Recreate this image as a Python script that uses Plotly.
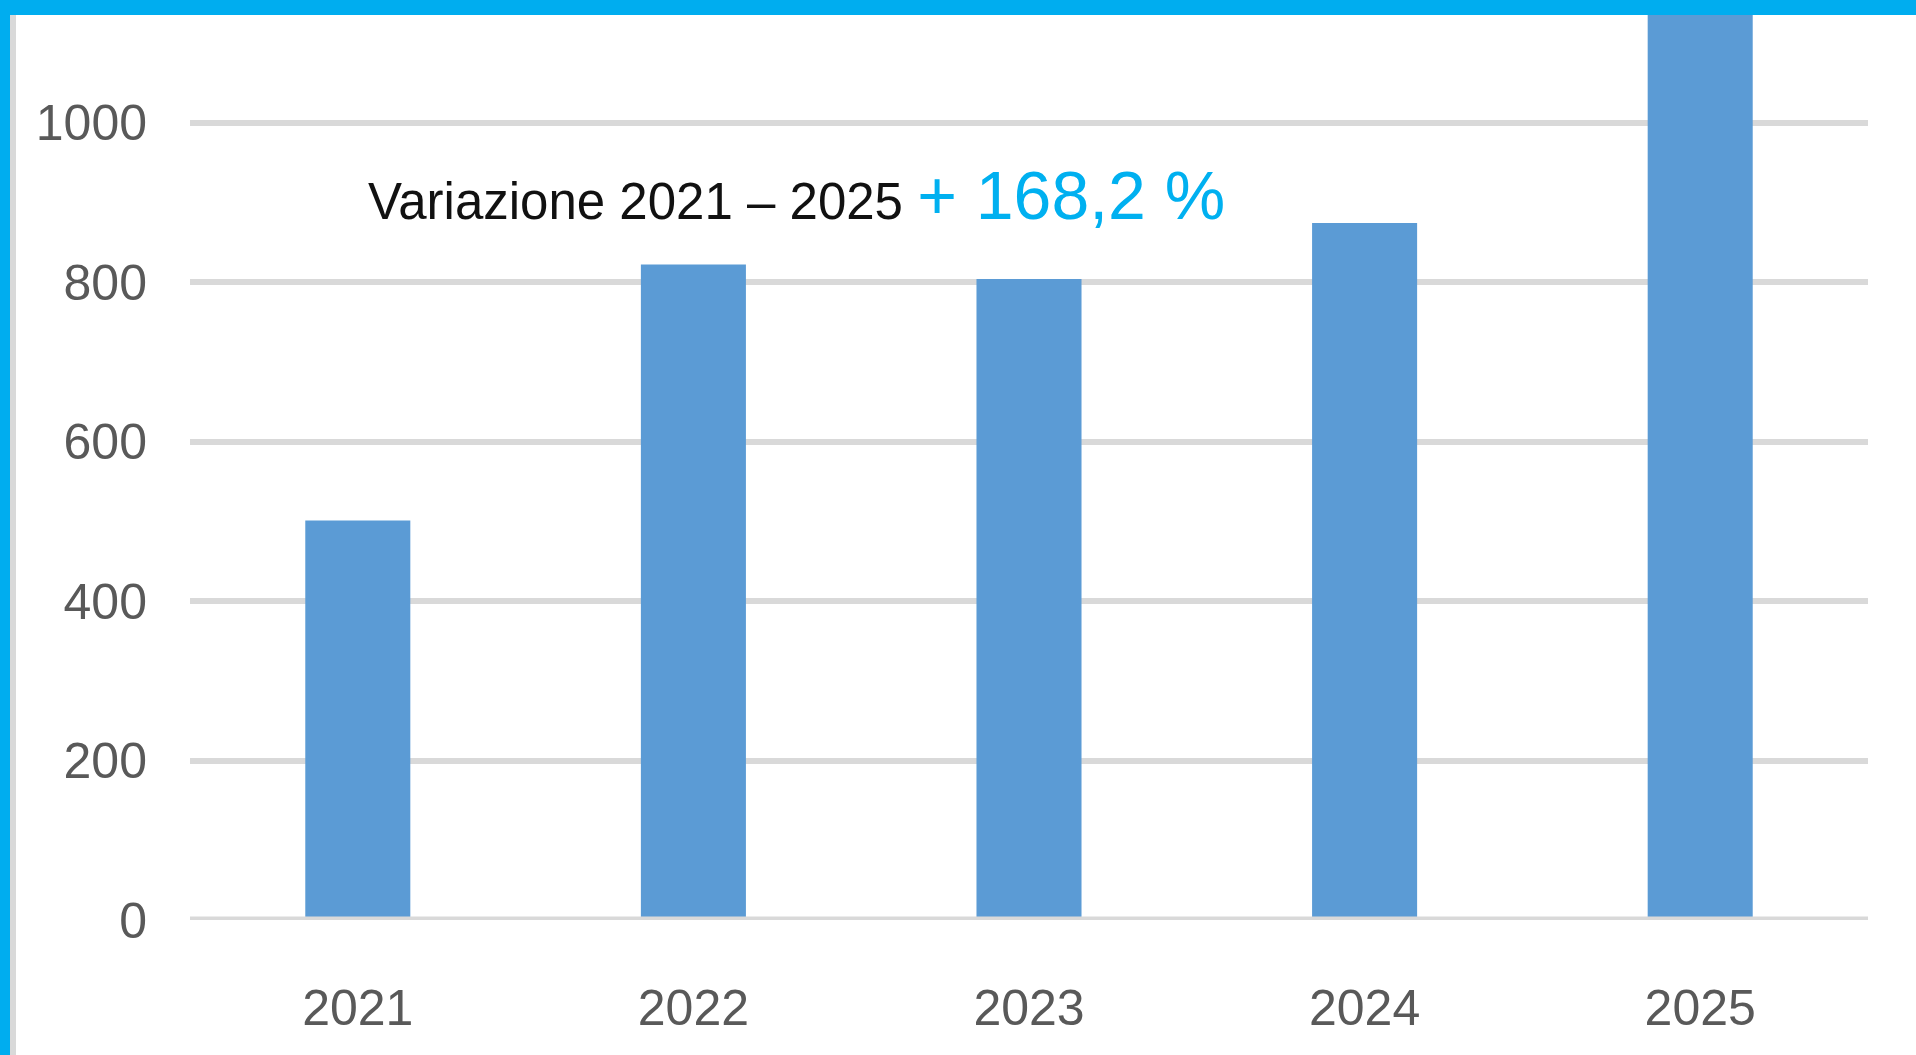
import plotly.graph_objects as go

years = ["2021", "2022", "2023", "2024", "2025"]
values = [501, 822, 804, 874, 1344]
y_ticks = [0, 200, 400, 600, 800, 1000]
note_text = "Variazione 2021 – 2025"
note_pct = "+ 168,2 %"

W, H = 1916, 1055
L, R, T, B = 190, 48, 15, 135
pw, ph = W - L - R, H - T - B

def px_x(p):
    return (p - L) / pw

def px_y(p):
    return (H - B - p) / ph

BLUE = "#00ADEF"
FONT = "Liberation Sans, Arial, sans-serif"

fig = go.Figure(go.Bar(x=years, y=values, marker=dict(color="#5B9BD5", line=dict(width=0)),
                       width=0.313, hoverinfo="skip"))

fig.update_layout(
    width=W, height=H,
    margin=dict(l=L, r=R, t=T, b=B, pad=0),
    paper_bgcolor="white", plot_bgcolor="white",
    showlegend=False,
    xaxis=dict(showgrid=False, zeroline=False, showline=False, ticks="",
               tickfont=dict(family=FONT, size=50, color="#595959"),
               ticklabelstandoff=54),
    yaxis=dict(range=[0, 1135], tickvals=y_ticks, ticktext=[str(v) for v in y_ticks],
               showgrid=True, gridcolor="#D9D9D9", gridwidth=6, zeroline=False,
               showline=False, ticks="",
               tickfont=dict(family=FONT, size=50, color="#595959"),
               ticklabelstandoff=42),
    shapes=[
        dict(type="line", xref="paper", yref="y", x0=0, x1=1, y0=0, y1=0,
             line=dict(color="#D9D9D9", width=7), layer="above"),
        dict(type="rect", xref="paper", yref="paper", x0=px_x(0), x1=px_x(W),
             y0=px_y(15), y1=px_y(0), fillcolor=BLUE, line=dict(width=0), layer="above"),
        dict(type="rect", xref="paper", yref="paper", x0=px_x(10), x1=px_x(16),
             y0=px_y(H), y1=px_y(15), fillcolor="#D9D9D9", line=dict(width=0), layer="above"),
        dict(type="rect", xref="paper", yref="paper", x0=px_x(0), x1=px_x(10),
             y0=px_y(H), y1=px_y(0), fillcolor=BLUE, line=dict(width=0), layer="above"),
    ],
    annotations=[
        dict(xref="paper", yref="paper", x=px_x(796), y=px_y(195),
             xanchor="center", yanchor="middle", showarrow=False,
             text=note_text + " <span style='font-size:68px;color:#00B0F0'>" + note_pct + "</span>",
             font=dict(family=FONT, size=51, color="#111111")),
    ],
)

fig.write_html("out.html", config={"displayModeBar": False},
               post_script="document.body.style.margin='0';document.body.style.overflow='hidden';")
